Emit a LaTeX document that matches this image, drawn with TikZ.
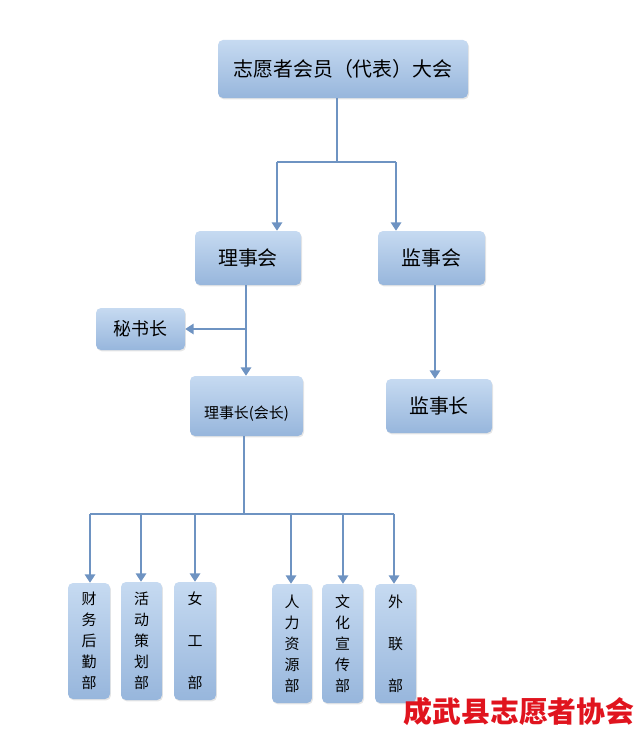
\documentclass[tikz,border=0pt]{standalone}
\usepackage{fontspec}
\setmainfont{Noto Sans CJK SC}
\usetikzlibrary{arrows.meta,shadows}
\definecolor{boxtop}{HTML}{C6DAF1}
\definecolor{boxbot}{HTML}{97B6DC}
\definecolor{linkblue}{HTML}{6E93C2}
\definecolor{stampred}{HTML}{E0141E}
\tikzset{
  orgbox/.style={rounded corners=5pt, top color=boxtop, bottom color=boxbot,
    draw=none, inner sep=0pt, align=center,
    drop shadow={opacity=0.2, shadow xshift=1pt, shadow yshift=-1.4pt}},
  deptbox/.style={orgbox, font=\fontsize{15}{21}\selectfont},
  link/.style={draw=linkblue, line width=1.9pt},
  linkarrow/.style={link, -{Triangle[width=10.5pt,length=8.5pt]}}
}
\begin{document}
\begin{tikzpicture}[x=1bp, y=-1bp]
\useasboundingbox (0,0) rectangle (641,737);

% upper levels
\node[orgbox, minimum width=250bp, minimum height=58bp, font=\fontsize{20}{24}\selectfont] (dahui) at (343,69) {志愿者会员（代表）大会};
\node[orgbox, minimum width=106bp, minimum height=54bp, font=\fontsize{20}{24}\selectfont] (lishihui) at (248,258) {理事会};
\node[orgbox, minimum width=107bp, minimum height=54bp, font=\fontsize{20}{24}\selectfont] (jianshihui) at (431.5,258) {监事会};
\node[orgbox, minimum width=89bp, minimum height=42bp, font=\fontsize{18}{22}\selectfont] (mishuzhang) at (140.5,329) {秘书长};
\node[orgbox, minimum width=113bp, minimum height=60bp, text height=26bp, text depth=2bp, font=\fontsize{15}{18}\selectfont] (lishizhang) at (246.5,406) {理事长(会长)};
\node[orgbox, minimum width=106bp, minimum height=54bp, font=\fontsize{20}{24}\selectfont] (jianshizhang) at (439,406) {监事长};

% departments
\node[deptbox, minimum width=42bp, minimum height=116bp] (caiwu) at (89,641) {财\\务\\后\\勤\\部};
\node[deptbox, minimum width=41bp, minimum height=118bp] (huodong) at (141.5,641) {活\\动\\策\\划\\部};
\node[deptbox, minimum width=42bp, minimum height=118bp] (nvgong) at (195,641) {女\\\\工\\\\部};
\node[deptbox, minimum width=40bp, minimum height=119bp] (renli) at (292,643.5) {人\\力\\资\\源\\部};
\node[deptbox, minimum width=41bp, minimum height=119bp] (wenhua) at (342.5,643.5) {文\\化\\宣\\传\\部};
\node[deptbox, minimum width=41bp, minimum height=119bp] (wailian) at (395.5,643.5) {外\\\\联\\\\部};

\node[text=stampred, font=\fontsize{29}{31}\selectfont\bfseries] (xiehui) at (519,711) {成武县志愿者协会};

% connectors
\coordinate (top split) at (337,162);
\coordinate (left drop) at (277,162);
\coordinate (right drop) at (396,162);
\draw[link] (dahui.south -| top split) -- (top split);
\draw[link] (left drop) -- (right drop);
\draw[linkarrow] (left drop) -- (left drop |- lishihui.north);
\draw[linkarrow] (right drop) -- (right drop |- jianshihui.north);

\coordinate (sec split) at (246,329);
\draw[linkarrow] (lishihui.south -| sec split) -- (sec split |- lishizhang.north);
\draw[linkarrow] (sec split) -- (mishuzhang.east);
\draw[linkarrow] (jianshihui.south -| 435,0) -- (jianshizhang.north -| 435,0);

\coordinate (dept split) at (244,514);
\draw[link] (lishizhang.south -| dept split) -- (dept split);
\draw[link] (90,514) -- (394,514);
\foreach \d/\x in {caiwu/90, huodong/141, nvgong/195, renli/291, wenhua/343, wailian/394}
  \draw[linkarrow] (\x,514) -- (\d.north -| \x,0);

\end{tikzpicture}
\end{document}
